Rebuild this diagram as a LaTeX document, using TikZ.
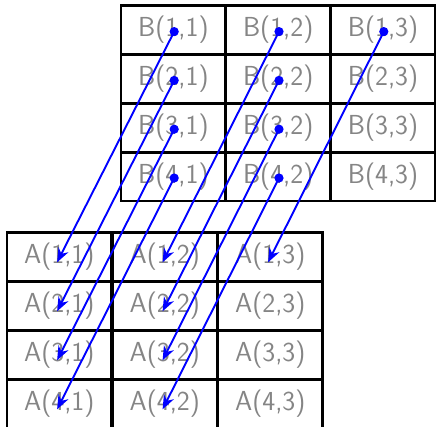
\documentclass[tikz,border=0pt]{standalone}
\usetikzlibrary{calc,arrows.meta}
\begin{document}
\begin{tikzpicture}[x=1pt,y=-1pt,
  cell/.style={draw=black,line width=2.8pt,minimum width=104.8pt,minimum height=48.9pt,
    inner sep=0pt,outer sep=0pt,text=black!48,font=\sffamily\fontsize{27.5}{32}\selectfont},
  link/.style={blue,line width=1.9pt,-{Stealth[length=14pt,width=11pt,inset=4.5pt]}},
  dot/.style={blue}]
\useasboundingbox (0,0) rectangle (436,426);
\begin{scope}
\clip (0,0) rectangle (436,426);
\foreach \i in {1,...,4}{
  \foreach \j in {1,...,3}{
    \node[cell] (B\i\j) at ({173.4+104.8*(\j-1)},{30.1+48.8*(\i-1)}) {B(\i,\j)};
    \node[cell] (A\i\j) at ({59.3+105.5*(\j-1)},{256.8+49*(\i-1)}) {A(\i,\j)};
  }
}
\end{scope}
\foreach \c in {11,21,31,41,12,22,32,42,13}{
  \coordinate (s\c) at ($(B\c.center)+(0.8,1.5)$);
  \coordinate (t\c) at ($(A\c.center)+(-2.2,5.5)$);
  \fill[dot] (s\c) circle (4.6pt);
  \draw[link] (s\c) -- (t\c);
}
\end{tikzpicture}
\end{document}
